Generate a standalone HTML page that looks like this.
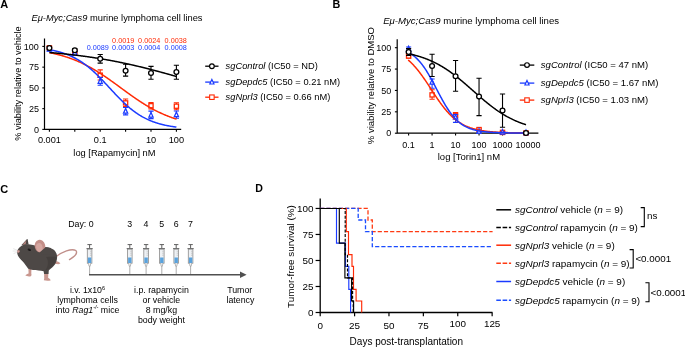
<!DOCTYPE html>
<html><head><meta charset="utf-8"><style>
html,body{margin:0;padding:0;background:#fff;}
svg{display:block;font-family:"Liberation Sans", sans-serif;will-change:transform;}
</style></head><body>
<svg width="685" height="348" viewBox="0 0 685 348">
<rect width="685" height="348" fill="#fff"/>
<text x="0.3" y="8.2" font-size="11" text-anchor="start" fill="#000" font-weight="bold" font-style="normal" >A</text>
<text x="31.5" y="21.4" font-size="9.33"><tspan font-style="italic">Eμ-Myc;Cas9</tspan> murine lymphoma cell lines</text>
<path d="M44.5,38.5 L44.5,129.4 L181.2,129.4" stroke="#000" stroke-width="1.2" fill="none"/>
<path d="M42.3,129.40 L44.5,129.40" stroke="#000" stroke-width="1.1"/>
<text x="38.9" y="132.60" font-size="9.0" text-anchor="end" fill="#000" font-weight="normal" font-style="normal" >0</text>
<path d="M42.3,108.65 L44.5,108.65" stroke="#000" stroke-width="1.1"/>
<text x="38.9" y="111.85" font-size="9.0" text-anchor="end" fill="#000" font-weight="normal" font-style="normal" >25</text>
<path d="M42.3,87.90 L44.5,87.90" stroke="#000" stroke-width="1.1"/>
<text x="38.9" y="91.10" font-size="9.0" text-anchor="end" fill="#000" font-weight="normal" font-style="normal" >50</text>
<path d="M42.3,67.15 L44.5,67.15" stroke="#000" stroke-width="1.1"/>
<text x="38.9" y="70.35" font-size="9.0" text-anchor="end" fill="#000" font-weight="normal" font-style="normal" >75</text>
<path d="M42.3,46.40 L44.5,46.40" stroke="#000" stroke-width="1.1"/>
<text x="38.9" y="49.60" font-size="9.0" text-anchor="end" fill="#000" font-weight="normal" font-style="normal" >100</text>
<path d="M49.40,129.4 L49.40,131.70000000000002" stroke="#000" stroke-width="1.1"/>
<path d="M74.80,129.4 L74.80,131.70000000000002" stroke="#000" stroke-width="1.1"/>
<path d="M100.20,129.4 L100.20,131.70000000000002" stroke="#000" stroke-width="1.1"/>
<path d="M125.60,129.4 L125.60,131.70000000000002" stroke="#000" stroke-width="1.1"/>
<path d="M151.00,129.4 L151.00,131.70000000000002" stroke="#000" stroke-width="1.1"/>
<path d="M176.40,129.4 L176.40,131.70000000000002" stroke="#000" stroke-width="1.1"/>
<text x="49.40" y="143" font-size="9.2" text-anchor="middle" fill="#000" font-weight="normal" font-style="normal" >0.001</text>
<text x="100.20" y="143" font-size="9.2" text-anchor="middle" fill="#000" font-weight="normal" font-style="normal" >0.1</text>
<text x="151.00" y="143" font-size="9.2" text-anchor="middle" fill="#000" font-weight="normal" font-style="normal" >10</text>
<text x="176.40" y="143" font-size="9.2" text-anchor="middle" fill="#000" font-weight="normal" font-style="normal" >100</text>
<text x="114.4" y="156" font-size="9.3" text-anchor="middle" fill="#000" font-weight="normal" font-style="normal" >log [Rapamycin] nM</text>
<text x="0" y="0" font-size="9.2" text-anchor="middle" fill="#000" font-weight="normal" font-style="normal" transform="translate(21.4,83.5) rotate(-90)">% viability relative to vehicle</text>
<text x="112.1" y="42.5" font-size="7.25" text-anchor="start" fill="#ff2a05" font-weight="normal" font-style="normal" >0.0019</text>
<text x="138.1" y="42.5" font-size="7.25" text-anchor="start" fill="#ff2a05" font-weight="normal" font-style="normal" >0.0024</text>
<text x="164.6" y="42.5" font-size="7.25" text-anchor="start" fill="#ff2a05" font-weight="normal" font-style="normal" >0.0038</text>
<text x="86.7" y="50.3" font-size="7.25" text-anchor="start" fill="#1a3aff" font-weight="normal" font-style="normal" >0.0089</text>
<text x="112.1" y="50.3" font-size="7.25" text-anchor="start" fill="#1a3aff" font-weight="normal" font-style="normal" >0.0003</text>
<text x="138.1" y="50.3" font-size="7.25" text-anchor="start" fill="#1a3aff" font-weight="normal" font-style="normal" >0.0004</text>
<text x="164.6" y="50.3" font-size="7.25" text-anchor="start" fill="#1a3aff" font-weight="normal" font-style="normal" >0.0008</text>
<path d="M49.4,46.5 L49.4,49 M46.8,46.5 L52.0,46.5 M46.8,49 L52.0,49" stroke="#ff2a05" stroke-width="1.1" fill="none"/>
<rect x="47.3" y="45.8" width="4.2" height="4.2" fill="#fff" stroke="#ff2a05" stroke-width="1.3"/>
<path d="M74.8,50 L74.8,53 M72.2,50 L77.39999999999999,50 M72.2,53 L77.39999999999999,53" stroke="#ff2a05" stroke-width="1.1" fill="none"/>
<rect x="72.7" y="50.5" width="4.2" height="4.2" fill="#fff" stroke="#ff2a05" stroke-width="1.3"/>
<path d="M100.2,69.9 L100.2,80 M97.60000000000001,69.9 L102.8,69.9 M97.60000000000001,80 L102.8,80" stroke="#ff2a05" stroke-width="1.1" fill="none"/>
<rect x="98.1" y="73.10000000000001" width="4.2" height="4.2" fill="#fff" stroke="#ff2a05" stroke-width="1.3"/>
<path d="M125.6,99 L125.6,106.5 M123.0,99 L128.2,99 M123.0,106.5 L128.2,106.5" stroke="#ff2a05" stroke-width="1.1" fill="none"/>
<rect x="123.5" y="100.80000000000001" width="4.2" height="4.2" fill="#fff" stroke="#ff2a05" stroke-width="1.3"/>
<path d="M151.0,102.5 L151.0,109 M148.4,102.5 L153.6,102.5 M148.4,109 L153.6,109" stroke="#ff2a05" stroke-width="1.1" fill="none"/>
<rect x="148.9" y="103.60000000000001" width="4.2" height="4.2" fill="#fff" stroke="#ff2a05" stroke-width="1.3"/>
<path d="M176.4,102.7 L176.4,109.7 M173.8,102.7 L179.0,102.7 M173.8,109.7 L179.0,109.7" stroke="#ff2a05" stroke-width="1.1" fill="none"/>
<rect x="174.3" y="104.10000000000001" width="4.2" height="4.2" fill="#fff" stroke="#ff2a05" stroke-width="1.3"/>
<path d="M49.4,48 L49.4,51 M46.8,48 L52.0,48 M46.8,51 L52.0,51" stroke="#1a3aff" stroke-width="1.1" fill="none"/>
<path d="M49.40,46.60 L51.50,51.20 L47.30,51.20 Z" fill="#fff" stroke="#1a3aff" stroke-width="1.25" stroke-linejoin="miter"/>
<path d="M74.8,51 L74.8,54 M72.2,51 L77.39999999999999,51 M72.2,54 L77.39999999999999,54" stroke="#1a3aff" stroke-width="1.1" fill="none"/>
<path d="M74.80,50.40 L76.90,55.00 L72.70,55.00 Z" fill="#fff" stroke="#1a3aff" stroke-width="1.25" stroke-linejoin="miter"/>
<path d="M100.2,77.5 L100.2,85.3 M97.60000000000001,77.5 L102.8,77.5 M97.60000000000001,85.3 L102.8,85.3" stroke="#1a3aff" stroke-width="1.1" fill="none"/>
<path d="M100.20,78.70 L102.30,83.30 L98.10,83.30 Z" fill="#fff" stroke="#1a3aff" stroke-width="1.25" stroke-linejoin="miter"/>
<path d="M125.6,107.5 L125.6,114.9 M123.0,107.5 L128.2,107.5 M123.0,114.9 L128.2,114.9" stroke="#1a3aff" stroke-width="1.1" fill="none"/>
<path d="M125.60,108.60 L127.70,113.20 L123.50,113.20 Z" fill="#fff" stroke="#1a3aff" stroke-width="1.25" stroke-linejoin="miter"/>
<path d="M151.0,111.1 L151.0,118.6 M148.4,111.1 L153.6,111.1 M148.4,118.6 L153.6,118.6" stroke="#1a3aff" stroke-width="1.1" fill="none"/>
<path d="M151.00,112.50 L153.10,117.10 L148.90,117.10 Z" fill="#fff" stroke="#1a3aff" stroke-width="1.25" stroke-linejoin="miter"/>
<path d="M176.4,111 L176.4,118.2 M173.8,111 L179.0,111 M173.8,118.2 L179.0,118.2" stroke="#1a3aff" stroke-width="1.1" fill="none"/>
<path d="M176.40,112.10 L178.50,116.70 L174.30,116.70 Z" fill="#fff" stroke="#1a3aff" stroke-width="1.25" stroke-linejoin="miter"/>
<path d="M49.40,52.64 L49.90,52.74 L50.40,52.84 L50.90,52.94 L51.40,53.05 L51.89,53.15 L52.39,53.26 L52.89,53.37 L53.39,53.48 L53.89,53.59 L54.39,53.71 L54.89,53.82 L55.39,53.94 L55.88,54.06 L56.38,54.18 L56.88,54.30 L57.38,54.43 L57.88,54.56 L58.38,54.68 L58.88,54.81 L59.38,54.95 L59.88,55.08 L60.37,55.21 L60.87,55.35 L61.37,55.49 L61.87,55.63 L62.37,55.78 L62.87,55.92 L63.37,56.07 L63.87,56.22 L64.36,56.37 L64.86,56.52 L65.36,56.68 L65.86,56.84 L66.36,57.00 L66.86,57.16 L67.36,57.32 L67.86,57.49 L68.36,57.66 L68.85,57.83 L69.35,58.00 L69.85,58.18 L70.35,58.36 L70.85,58.54 L71.35,58.72 L71.85,58.90 L72.35,59.09 L72.84,59.28 L73.34,59.47 L73.84,59.66 L74.34,59.86 L74.84,60.06 L75.34,60.26 L75.84,60.46 L76.34,60.67 L76.84,60.88 L77.33,61.09 L77.83,61.30 L78.33,61.51 L78.83,61.73 L79.33,61.95 L79.83,62.18 L80.33,62.40 L80.83,62.63 L81.32,62.86 L81.82,63.09 L82.32,63.33 L82.82,63.56 L83.32,63.80 L83.82,64.05 L84.32,64.29 L84.82,64.54 L85.32,64.79 L85.81,65.04 L86.31,65.30 L86.81,65.56 L87.31,65.82 L87.81,66.08 L88.31,66.34 L88.81,66.61 L89.31,66.88 L89.80,67.15 L90.30,67.43 L90.80,67.71 L91.30,67.99 L91.80,68.27 L92.30,68.55 L92.80,68.84 L93.30,69.13 L93.80,69.42 L94.29,69.71 L94.79,70.01 L95.29,70.31 L95.79,70.61 L96.29,70.91 L96.79,71.22 L97.29,71.53 L97.79,71.83 L98.28,72.15 L98.78,72.46 L99.28,72.78 L99.78,73.09 L100.28,73.41 L100.78,73.74 L101.28,74.06 L101.78,74.39 L102.28,74.71 L102.77,75.04 L103.27,75.38 L103.77,75.71 L104.27,76.04 L104.77,76.38 L105.27,76.72 L105.77,77.06 L106.27,77.40 L106.76,77.74 L107.26,78.09 L107.76,78.44 L108.26,78.78 L108.76,79.13 L109.26,79.48 L109.76,79.83 L110.26,80.19 L110.76,80.54 L111.25,80.90 L111.75,81.25 L112.25,81.61 L112.75,81.97 L113.25,82.33 L113.75,82.69 L114.25,83.05 L114.75,83.41 L115.24,83.77 L115.74,84.13 L116.24,84.50 L116.74,84.86 L117.24,85.22 L117.74,85.59 L118.24,85.95 L118.74,86.32 L119.24,86.68 L119.73,87.05 L120.23,87.42 L120.73,87.78 L121.23,88.15 L121.73,88.51 L122.23,88.88 L122.73,89.25 L123.23,89.61 L123.72,89.98 L124.22,90.34 L124.72,90.71 L125.22,91.07 L125.72,91.43 L126.22,91.80 L126.72,92.16 L127.22,92.52 L127.72,92.88 L128.21,93.24 L128.71,93.60 L129.21,93.96 L129.71,94.32 L130.21,94.68 L130.71,95.03 L131.21,95.39 L131.71,95.74 L132.20,96.09 L132.70,96.44 L133.20,96.79 L133.70,97.14 L134.20,97.49 L134.70,97.83 L135.20,98.18 L135.70,98.52 L136.20,98.86 L136.69,99.20 L137.19,99.54 L137.69,99.87 L138.19,100.21 L138.69,100.54 L139.19,100.87 L139.69,101.20 L140.19,101.53 L140.68,101.85 L141.18,102.18 L141.68,102.50 L142.18,102.82 L142.68,103.13 L143.18,103.45 L143.68,103.76 L144.18,104.07 L144.68,104.38 L145.17,104.69 L145.67,104.99 L146.17,105.29 L146.67,105.59 L147.17,105.89 L147.67,106.19 L148.17,106.48 L148.67,106.77 L149.16,107.06 L149.66,107.34 L150.16,107.63 L150.66,107.91 L151.16,108.19 L151.66,108.46 L152.16,108.74 L152.66,109.01 L153.16,109.28 L153.65,109.54 L154.15,109.81 L154.65,110.07 L155.15,110.33 L155.65,110.59 L156.15,110.84 L156.65,111.09 L157.15,111.34 L157.64,111.59 L158.14,111.83 L158.64,112.07 L159.14,112.31 L159.64,112.55 L160.14,112.78 L160.64,113.01 L161.14,113.24 L161.64,113.47 L162.13,113.69 L162.63,113.92 L163.13,114.14 L163.63,114.35 L164.13,114.57 L164.63,114.78 L165.13,114.99 L165.63,115.20 L166.12,115.40 L166.62,115.60 L167.12,115.80 L167.62,116.00 L168.12,116.19 L168.62,116.39 L169.12,116.58 L169.62,116.77 L170.12,116.95 L170.61,117.13 L171.11,117.32 L171.61,117.49 L172.11,117.67 L172.61,117.85 L173.11,118.02 L173.61,118.19 L174.11,118.35 L174.60,118.52 L175.10,118.68 L175.60,118.84 L176.10,119.00 L176.60,119.16" stroke="#ff2a05" stroke-width="1.5" fill="none"/>
<path d="M49.40,49.73 L49.90,49.82 L50.40,49.91 L50.89,50.00 L51.39,50.09 L51.89,50.19 L52.39,50.29 L52.89,50.39 L53.38,50.49 L53.88,50.60 L54.38,50.71 L54.88,50.82 L55.38,50.93 L55.87,51.05 L56.37,51.17 L56.87,51.29 L57.37,51.42 L57.87,51.54 L58.36,51.67 L58.86,51.81 L59.36,51.94 L59.86,52.08 L60.36,52.22 L60.85,52.37 L61.35,52.52 L61.85,52.67 L62.35,52.83 L62.85,52.99 L63.35,53.15 L63.84,53.32 L64.34,53.48 L64.84,53.66 L65.34,53.84 L65.84,54.02 L66.33,54.20 L66.83,54.39 L67.33,54.58 L67.83,54.78 L68.33,54.98 L68.82,55.18 L69.32,55.39 L69.82,55.61 L70.32,55.82 L70.82,56.05 L71.31,56.27 L71.81,56.50 L72.31,56.74 L72.81,56.98 L73.31,57.22 L73.80,57.47 L74.30,57.73 L74.80,57.99 L75.30,58.25 L75.80,58.52 L76.29,58.79 L76.79,59.07 L77.29,59.36 L77.79,59.65 L78.29,59.94 L78.78,60.24 L79.28,60.54 L79.78,60.85 L80.28,61.17 L80.78,61.49 L81.27,61.81 L81.77,62.14 L82.27,62.48 L82.77,62.82 L83.27,63.17 L83.76,63.52 L84.26,63.88 L84.76,64.24 L85.26,64.61 L85.76,64.98 L86.25,65.36 L86.75,65.74 L87.25,66.13 L87.75,66.53 L88.25,66.93 L88.75,67.33 L89.24,67.74 L89.74,68.16 L90.24,68.58 L90.74,69.01 L91.24,69.44 L91.73,69.87 L92.23,70.31 L92.73,70.76 L93.23,71.21 L93.73,71.66 L94.22,72.12 L94.72,72.59 L95.22,73.06 L95.72,73.53 L96.22,74.01 L96.71,74.49 L97.21,74.97 L97.71,75.46 L98.21,75.95 L98.71,76.45 L99.20,76.95 L99.70,77.46 L100.20,77.96 L100.70,78.47 L101.20,78.99 L101.69,79.50 L102.19,80.02 L102.69,80.54 L103.19,81.07 L103.69,81.59 L104.18,82.12 L104.68,82.65 L105.18,83.18 L105.68,83.71 L106.18,84.25 L106.67,84.78 L107.17,85.32 L107.67,85.86 L108.17,86.40 L108.67,86.93 L109.16,87.47 L109.66,88.01 L110.16,88.55 L110.66,89.09 L111.16,89.63 L111.65,90.17 L112.15,90.70 L112.65,91.24 L113.15,91.78 L113.65,92.31 L114.15,92.84 L114.64,93.37 L115.14,93.90 L115.64,94.43 L116.14,94.96 L116.64,95.48 L117.13,96.00 L117.63,96.52 L118.13,97.03 L118.63,97.54 L119.13,98.05 L119.62,98.56 L120.12,99.06 L120.62,99.56 L121.12,100.05 L121.62,100.55 L122.11,101.03 L122.61,101.52 L123.11,102.00 L123.61,102.47 L124.11,102.94 L124.60,103.41 L125.10,103.87 L125.60,104.33 L126.10,104.78 L126.60,105.23 L127.09,105.68 L127.59,106.12 L128.09,106.55 L128.59,106.98 L129.09,107.40 L129.58,107.82 L130.08,108.24 L130.58,108.64 L131.08,109.05 L131.58,109.45 L132.07,109.84 L132.57,110.23 L133.07,110.61 L133.57,110.98 L134.07,111.36 L134.56,111.72 L135.06,112.08 L135.56,112.44 L136.06,112.79 L136.56,113.13 L137.05,113.47 L137.55,113.81 L138.05,114.13 L138.55,114.46 L139.05,114.78 L139.55,115.09 L140.04,115.40 L140.54,115.70 L141.04,116.00 L141.54,116.29 L142.04,116.57 L142.53,116.86 L143.03,117.13 L143.53,117.41 L144.03,117.67 L144.53,117.93 L145.02,118.19 L145.52,118.44 L146.02,118.69 L146.52,118.94 L147.02,119.17 L147.51,119.41 L148.01,119.64 L148.51,119.86 L149.01,120.08 L149.51,120.30 L150.00,120.51 L150.50,120.72 L151.00,120.92 L151.50,121.12 L152.00,121.31 L152.49,121.51 L152.99,121.69 L153.49,121.88 L153.99,122.06 L154.49,122.23 L154.98,122.40 L155.48,122.57 L155.98,122.74 L156.48,122.90 L156.98,123.06 L157.47,123.21 L157.97,123.36 L158.47,123.51 L158.97,123.65 L159.47,123.80 L159.96,123.93 L160.46,124.07 L160.96,124.20 L161.46,124.33 L161.96,124.46 L162.45,124.58 L162.95,124.70 L163.45,124.82 L163.95,124.93 L164.45,125.05 L164.95,125.16 L165.44,125.27 L165.94,125.37 L166.44,125.47 L166.94,125.57 L167.44,125.67 L167.93,125.77 L168.43,125.86 L168.93,125.95 L169.43,126.04 L169.93,126.13 L170.42,126.21 L170.92,126.30 L171.42,126.38 L171.92,126.46 L172.42,126.54 L172.91,126.61 L173.41,126.69 L173.91,126.76 L174.41,126.83 L174.91,126.90 L175.40,126.96 L175.90,127.03 L176.40,127.09" stroke="#1a3aff" stroke-width="1.5" fill="none"/>
<path d="M49.40,52.50 L49.90,52.54 L50.40,52.58 L50.90,52.63 L51.40,52.67 L51.90,52.71 L52.40,52.75 L52.90,52.80 L53.40,52.84 L53.90,52.89 L54.40,52.93 L54.90,52.98 L55.40,53.02 L55.89,53.07 L56.39,53.11 L56.89,53.16 L57.39,53.21 L57.89,53.25 L58.39,53.30 L58.89,53.35 L59.39,53.40 L59.89,53.45 L60.39,53.50 L60.89,53.54 L61.39,53.59 L61.89,53.64 L62.39,53.69 L62.89,53.75 L63.39,53.80 L63.89,53.85 L64.39,53.90 L64.89,53.95 L65.39,54.00 L65.89,54.06 L66.39,54.11 L66.89,54.16 L67.39,54.22 L67.89,54.27 L68.39,54.33 L68.88,54.38 L69.38,54.44 L69.88,54.49 L70.38,54.55 L70.88,54.61 L71.38,54.66 L71.88,54.72 L72.38,54.78 L72.88,54.84 L73.38,54.89 L73.88,54.95 L74.38,55.01 L74.88,55.07 L75.38,55.13 L75.88,55.19 L76.38,55.25 L76.88,55.32 L77.38,55.38 L77.88,55.44 L78.38,55.50 L78.88,55.57 L79.38,55.63 L79.88,55.69 L80.38,55.76 L80.88,55.82 L81.37,55.89 L81.87,55.95 L82.37,56.02 L82.87,56.09 L83.37,56.15 L83.87,56.22 L84.37,56.29 L84.87,56.36 L85.37,56.42 L85.87,56.49 L86.37,56.56 L86.87,56.63 L87.37,56.70 L87.87,56.77 L88.37,56.85 L88.87,56.92 L89.37,56.99 L89.87,57.06 L90.37,57.14 L90.87,57.21 L91.37,57.28 L91.87,57.36 L92.37,57.43 L92.87,57.51 L93.37,57.58 L93.86,57.66 L94.36,57.74 L94.86,57.81 L95.36,57.89 L95.86,57.97 L96.36,58.05 L96.86,58.13 L97.36,58.21 L97.86,58.29 L98.36,58.37 L98.86,58.45 L99.36,58.53 L99.86,58.61 L100.36,58.70 L100.86,58.78 L101.36,58.86 L101.86,58.95 L102.36,59.03 L102.86,59.11 L103.36,59.20 L103.86,59.29 L104.36,59.37 L104.86,59.46 L105.36,59.55 L105.86,59.63 L106.36,59.72 L106.85,59.81 L107.35,59.90 L107.85,59.99 L108.35,60.08 L108.85,60.17 L109.35,60.26 L109.85,60.35 L110.35,60.44 L110.85,60.54 L111.35,60.63 L111.85,60.72 L112.35,60.82 L112.85,60.91 L113.35,61.01 L113.85,61.10 L114.35,61.20 L114.85,61.30 L115.35,61.39 L115.85,61.49 L116.35,61.59 L116.85,61.69 L117.35,61.79 L117.85,61.88 L118.35,61.98 L118.85,62.08 L119.34,62.19 L119.84,62.29 L120.34,62.39 L120.84,62.49 L121.34,62.59 L121.84,62.70 L122.34,62.80 L122.84,62.91 L123.34,63.01 L123.84,63.12 L124.34,63.22 L124.84,63.33 L125.34,63.43 L125.84,63.54 L126.34,63.65 L126.84,63.76 L127.34,63.87 L127.84,63.98 L128.34,64.08 L128.84,64.19 L129.34,64.31 L129.84,64.42 L130.34,64.53 L130.84,64.64 L131.34,64.75 L131.84,64.86 L132.33,64.98 L132.83,65.09 L133.33,65.21 L133.83,65.32 L134.33,65.44 L134.83,65.55 L135.33,65.67 L135.83,65.78 L136.33,65.90 L136.83,66.02 L137.33,66.14 L137.83,66.26 L138.33,66.37 L138.83,66.49 L139.33,66.61 L139.83,66.73 L140.33,66.85 L140.83,66.97 L141.33,67.10 L141.83,67.22 L142.33,67.34 L142.83,67.46 L143.33,67.59 L143.83,67.71 L144.33,67.83 L144.82,67.96 L145.32,68.08 L145.82,68.21 L146.32,68.33 L146.82,68.46 L147.32,68.58 L147.82,68.71 L148.32,68.84 L148.82,68.97 L149.32,69.09 L149.82,69.22 L150.32,69.35 L150.82,69.48 L151.32,69.61 L151.82,69.74 L152.32,69.87 L152.82,70.00 L153.32,70.13 L153.82,70.26 L154.32,70.39 L154.82,70.52 L155.32,70.66 L155.82,70.79 L156.32,70.92 L156.82,71.05 L157.31,71.19 L157.81,71.32 L158.31,71.46 L158.81,71.59 L159.31,71.73 L159.81,71.86 L160.31,72.00 L160.81,72.13 L161.31,72.27 L161.81,72.40 L162.31,72.54 L162.81,72.68 L163.31,72.81 L163.81,72.95 L164.31,73.09 L164.81,73.23 L165.31,73.36 L165.81,73.50 L166.31,73.64 L166.81,73.78 L167.31,73.92 L167.81,74.06 L168.31,74.20 L168.81,74.34 L169.31,74.48 L169.81,74.62 L170.30,74.76 L170.80,74.90 L171.30,75.04 L171.80,75.18 L172.30,75.32 L172.80,75.46 L173.30,75.61 L173.80,75.75 L174.30,75.89 L174.80,76.03 L175.30,76.17 L175.80,76.32 L176.30,76.46" stroke="#000" stroke-width="1.5" fill="none"/>
<path d="M49.4,46.5 L49.4,49.7 M46.8,46.5 L52.0,46.5 M46.8,49.7 L52.0,49.7" stroke="#000" stroke-width="1.1" fill="none"/>
<circle cx="49.4" cy="48.1" r="2.4" fill="#fff" stroke="#000" stroke-width="1.3"/>
<path d="M74.8,48.8 L74.8,51.8 M72.2,48.8 L77.39999999999999,48.8 M72.2,51.8 L77.39999999999999,51.8" stroke="#000" stroke-width="1.1" fill="none"/>
<circle cx="74.8" cy="50.3" r="2.4" fill="#fff" stroke="#000" stroke-width="1.3"/>
<path d="M100.2,54.5 L100.2,63.1 M97.60000000000001,54.5 L102.8,54.5 M97.60000000000001,63.1 L102.8,63.1" stroke="#000" stroke-width="1.1" fill="none"/>
<circle cx="100.19999999999999" cy="58.8" r="2.4" fill="#fff" stroke="#000" stroke-width="1.3"/>
<path d="M125.6,64.2 L125.6,76.1 M123.0,64.2 L128.2,64.2 M123.0,76.1 L128.2,76.1" stroke="#000" stroke-width="1.1" fill="none"/>
<circle cx="125.6" cy="70.7" r="2.4" fill="#fff" stroke="#000" stroke-width="1.3"/>
<path d="M151.0,66.4 L151.0,79.3 M148.4,66.4 L153.6,66.4 M148.4,79.3 L153.6,79.3" stroke="#000" stroke-width="1.1" fill="none"/>
<circle cx="151.0" cy="73.0" r="2.4" fill="#fff" stroke="#000" stroke-width="1.3"/>
<path d="M176.4,65.3 L176.4,79.3 M173.8,65.3 L179.0,65.3 M173.8,79.3 L179.0,79.3" stroke="#000" stroke-width="1.1" fill="none"/>
<circle cx="176.4" cy="72.1" r="2.4" fill="#fff" stroke="#000" stroke-width="1.3"/>
<path d="M205.2,66.2 L218.5,66.2" stroke="#000" stroke-width="1.3"/>
<circle cx="211.9" cy="66.2" r="2.35" fill="#fff" stroke="#000" stroke-width="1.2"/>
<text x="225.6" y="69.3" font-size="9.3"><tspan font-style="italic">sgControl</tspan> (IC50 = ND)</text>
<path d="M205.2,82.1 L218.5,82.1" stroke="#1a3aff" stroke-width="1.3"/>
<path d="M211.90,79.40 L214.00,84.00 L209.80,84.00 Z" fill="#fff" stroke="#1a3aff" stroke-width="1.15" stroke-linejoin="miter"/>
<text x="225.6" y="85.19999999999999" font-size="9.3"><tspan font-style="italic">sgDepdc5</tspan> (IC50 = 0.21 nM)</text>
<path d="M205.2,97.2 L218.5,97.2" stroke="#ff2a05" stroke-width="1.3"/>
<rect x="209.65" y="94.95" width="4.5" height="4.5" fill="#fff" stroke="#ff2a05" stroke-width="1.1"/>
<text x="225.6" y="100.3" font-size="9.3"><tspan font-style="italic">sgNprl3</tspan> (IC50 = 0.66 nM)</text>
<text x="332.6" y="8.0" font-size="10.8" text-anchor="start" fill="#000" font-weight="bold" font-style="normal" >B</text>
<text x="383.2" y="24.3" font-size="9.6"><tspan font-style="italic">Eμ-Myc;Cas9</tspan> murine lymphoma cell lines</text>
<path d="M397.2,39.3 L397.2,133.2 L538.4,133.2" stroke="#000" stroke-width="1.2" fill="none"/>
<path d="M394.9,133.20 L397.2,133.20" stroke="#000" stroke-width="1.1"/>
<text x="391.2" y="136.40" font-size="9.0" text-anchor="end" fill="#000" font-weight="normal" font-style="normal" >0</text>
<path d="M394.9,111.82 L397.2,111.82" stroke="#000" stroke-width="1.1"/>
<text x="391.2" y="115.02" font-size="9.0" text-anchor="end" fill="#000" font-weight="normal" font-style="normal" >25</text>
<path d="M394.9,90.45 L397.2,90.45" stroke="#000" stroke-width="1.1"/>
<text x="391.2" y="93.65" font-size="9.0" text-anchor="end" fill="#000" font-weight="normal" font-style="normal" >50</text>
<path d="M394.9,69.07 L397.2,69.07" stroke="#000" stroke-width="1.1"/>
<text x="391.2" y="72.27" font-size="9.0" text-anchor="end" fill="#000" font-weight="normal" font-style="normal" >75</text>
<path d="M394.9,47.70 L397.2,47.70" stroke="#000" stroke-width="1.1"/>
<text x="391.2" y="50.90" font-size="9.0" text-anchor="end" fill="#000" font-weight="normal" font-style="normal" >100</text>
<path d="M408.60,133.2 L408.60,135.5" stroke="#000" stroke-width="1.1"/>
<text x="408.60" y="148" font-size="9.0" text-anchor="middle" fill="#000" font-weight="normal" font-style="normal" >0.1</text>
<path d="M432.08,133.2 L432.08,135.5" stroke="#000" stroke-width="1.1"/>
<text x="432.08" y="148" font-size="9.0" text-anchor="middle" fill="#000" font-weight="normal" font-style="normal" >1</text>
<path d="M455.56,133.2 L455.56,135.5" stroke="#000" stroke-width="1.1"/>
<text x="455.56" y="148" font-size="9.0" text-anchor="middle" fill="#000" font-weight="normal" font-style="normal" >10</text>
<path d="M479.04,133.2 L479.04,135.5" stroke="#000" stroke-width="1.1"/>
<text x="479.04" y="148" font-size="9.0" text-anchor="middle" fill="#000" font-weight="normal" font-style="normal" >100</text>
<path d="M502.52,133.2 L502.52,135.5" stroke="#000" stroke-width="1.1"/>
<text x="502.52" y="148" font-size="9.0" text-anchor="middle" fill="#000" font-weight="normal" font-style="normal" >1000</text>
<path d="M526.00,133.2 L526.00,135.5" stroke="#000" stroke-width="1.1"/>
<text x="528.00" y="148" font-size="9.0" text-anchor="middle" fill="#000" font-weight="normal" font-style="normal" >10000</text>
<text x="468.9" y="160" font-size="9.5" text-anchor="middle" fill="#000" font-weight="normal" font-style="normal" >log [Torin1] nM</text>
<text x="0" y="0" font-size="9.5" text-anchor="middle" fill="#000" font-weight="normal" font-style="normal" transform="translate(374.2,85.6) rotate(-90)">% viability relative to DMSO</text>
<path d="M408.6,54 L408.6,58.2 M406.0,54 L411.20000000000005,54 M406.0,58.2 L411.20000000000005,58.2" stroke="#ff2a05" stroke-width="1.1" fill="none"/>
<rect x="406.5" y="53.9" width="4.2" height="4.2" fill="#fff" stroke="#ff2a05" stroke-width="1.3"/>
<path d="M432.08,89.7 L432.08,99.3 M429.47999999999996,89.7 L434.68,89.7 M429.47999999999996,99.3 L434.68,99.3" stroke="#ff2a05" stroke-width="1.1" fill="none"/>
<rect x="429.98" y="92.80000000000001" width="4.2" height="4.2" fill="#fff" stroke="#ff2a05" stroke-width="1.3"/>
<path d="M455.56,112.5 L455.56,118.3 M452.96,112.5 L458.16,112.5 M452.96,118.3 L458.16,118.3" stroke="#ff2a05" stroke-width="1.1" fill="none"/>
<rect x="453.46" y="113.30000000000001" width="4.2" height="4.2" fill="#fff" stroke="#ff2a05" stroke-width="1.3"/>
<path d="M479.04,128.3 L479.04,131 M476.44,128.3 L481.64000000000004,128.3 M476.44,131 L481.64000000000004,131" stroke="#ff2a05" stroke-width="1.1" fill="none"/>
<rect x="476.94" y="127.5" width="4.2" height="4.2" fill="#fff" stroke="#ff2a05" stroke-width="1.3"/>
<path d="M502.52,131.5 L502.52,133.3 M499.91999999999996,131.5 L505.12,131.5 M499.91999999999996,133.3 L505.12,133.3" stroke="#ff2a05" stroke-width="1.1" fill="none"/>
<rect x="500.42" y="130.3" width="4.2" height="4.2" fill="#fff" stroke="#ff2a05" stroke-width="1.3"/>
<path d="M526.0,132.5 L526.0,133.5 M523.4,132.5 L528.6,132.5 M523.4,133.5 L528.6,133.5" stroke="#ff2a05" stroke-width="1.1" fill="none"/>
<rect x="523.9" y="130.9" width="4.2" height="4.2" fill="#fff" stroke="#ff2a05" stroke-width="1.3"/>
<path d="M408.6,47 L408.6,51.5 M406.0,47 L411.20000000000005,47 M406.0,51.5 L411.20000000000005,51.5" stroke="#1a3aff" stroke-width="1.1" fill="none"/>
<path d="M408.60,46.20 L410.70,50.80 L406.50,50.80 Z" fill="#fff" stroke="#1a3aff" stroke-width="1.25" stroke-linejoin="miter"/>
<path d="M432.08,79 L432.08,88.3 M429.47999999999996,79 L434.68,79 M429.47999999999996,88.3 L434.68,88.3" stroke="#1a3aff" stroke-width="1.1" fill="none"/>
<path d="M432.08,79.50 L434.18,84.10 L429.98,84.10 Z" fill="#fff" stroke="#1a3aff" stroke-width="1.25" stroke-linejoin="miter"/>
<path d="M455.56,114.5 L455.56,122.4 M452.96,114.5 L458.16,114.5 M452.96,122.4 L458.16,122.4" stroke="#1a3aff" stroke-width="1.1" fill="none"/>
<path d="M455.56,114.60 L457.66,119.20 L453.46,119.20 Z" fill="#fff" stroke="#1a3aff" stroke-width="1.25" stroke-linejoin="miter"/>
<path d="M479.04,130 L479.04,133 M476.44,130 L481.64000000000004,130 M476.44,133 L481.64000000000004,133" stroke="#1a3aff" stroke-width="1.1" fill="none"/>
<path d="M479.04,128.60 L481.14,133.20 L476.94,133.20 Z" fill="#fff" stroke="#1a3aff" stroke-width="1.25" stroke-linejoin="miter"/>
<path d="M502.52,131.5 L502.52,133.3 M499.91999999999996,131.5 L505.12,131.5 M499.91999999999996,133.3 L505.12,133.3" stroke="#1a3aff" stroke-width="1.1" fill="none"/>
<path d="M502.52,129.40 L504.62,134.00 L500.42,134.00 Z" fill="#fff" stroke="#1a3aff" stroke-width="1.25" stroke-linejoin="miter"/>
<path d="M526.0,132.5 L526.0,133.5 M523.4,132.5 L528.6,132.5 M523.4,133.5 L528.6,133.5" stroke="#1a3aff" stroke-width="1.1" fill="none"/>
<path d="M526.00,130.00 L528.10,134.60 L523.90,134.60 Z" fill="#fff" stroke="#1a3aff" stroke-width="1.25" stroke-linejoin="miter"/>
<path d="M408.20,60.02 L408.70,60.46 L409.20,60.90 L409.70,61.35 L410.20,61.81 L410.70,62.28 L411.19,62.77 L411.69,63.26 L412.19,63.76 L412.69,64.28 L413.19,64.80 L413.69,65.33 L414.19,65.88 L414.69,66.43 L415.19,67.00 L415.69,67.57 L416.19,68.16 L416.69,68.75 L417.18,69.36 L417.68,69.97 L418.18,70.59 L418.68,71.23 L419.18,71.87 L419.68,72.52 L420.18,73.18 L420.68,73.85 L421.18,74.52 L421.68,75.21 L422.18,75.90 L422.68,76.60 L423.17,77.31 L423.67,78.02 L424.17,78.74 L424.67,79.47 L425.17,80.20 L425.67,80.93 L426.17,81.68 L426.67,82.42 L427.17,83.17 L427.67,83.93 L428.17,84.68 L428.67,85.44 L429.16,86.20 L429.66,86.97 L430.16,87.73 L430.66,88.50 L431.16,89.27 L431.66,90.03 L432.16,90.80 L432.66,91.56 L433.16,92.33 L433.66,93.09 L434.16,93.85 L434.66,94.60 L435.15,95.36 L435.65,96.11 L436.15,96.85 L436.65,97.59 L437.15,98.33 L437.65,99.06 L438.15,99.78 L438.65,100.50 L439.15,101.21 L439.65,101.92 L440.15,102.62 L440.64,103.31 L441.14,103.99 L441.64,104.67 L442.14,105.33 L442.64,105.99 L443.14,106.64 L443.64,107.28 L444.14,107.91 L444.64,108.54 L445.14,109.15 L445.64,109.75 L446.14,110.34 L446.63,110.93 L447.13,111.50 L447.63,112.06 L448.13,112.62 L448.63,113.16 L449.13,113.69 L449.63,114.21 L450.13,114.72 L450.63,115.23 L451.13,115.72 L451.63,116.20 L452.13,116.67 L452.62,117.13 L453.12,117.58 L453.62,118.02 L454.12,118.45 L454.62,118.87 L455.12,119.28 L455.62,119.68 L456.12,120.07 L456.62,120.45 L457.12,120.83 L457.62,121.19 L458.12,121.54 L458.61,121.89 L459.11,122.22 L459.61,122.55 L460.11,122.87 L460.61,123.18 L461.11,123.48 L461.61,123.77 L462.11,124.06 L462.61,124.34 L463.11,124.61 L463.61,124.87 L464.11,125.12 L464.60,125.37 L465.10,125.61 L465.60,125.85 L466.10,126.07 L466.60,126.30 L467.10,126.51 L467.60,126.72 L468.10,126.92 L468.60,127.12 L469.10,127.31 L469.60,127.49 L470.09,127.67 L470.59,127.84 L471.09,128.01 L471.59,128.17 L472.09,128.33 L472.59,128.48 L473.09,128.63 L473.59,128.78 L474.09,128.92 L474.59,129.05 L475.09,129.18 L475.59,129.31 L476.08,129.43 L476.58,129.55 L477.08,129.67 L477.58,129.78 L478.08,129.88 L478.58,129.99 L479.08,130.09 L479.58,130.19 L480.08,130.28 L480.58,130.37 L481.08,130.46 L481.58,130.55 L482.07,130.63 L482.57,130.71 L483.07,130.79 L483.57,130.86 L484.07,130.94 L484.57,131.01 L485.07,131.08 L485.57,131.14 L486.07,131.21 L486.57,131.27 L487.07,131.33 L487.57,131.38 L488.06,131.44 L488.56,131.49 L489.06,131.55 L489.56,131.60 L490.06,131.64 L490.56,131.69 L491.06,131.74 L491.56,131.78 L492.06,131.82 L492.56,131.86 L493.06,131.90 L493.56,131.94 L494.05,131.98 L494.55,132.01 L495.05,132.05 L495.55,132.08 L496.05,132.11 L496.55,132.15 L497.05,132.18 L497.55,132.21 L498.05,132.23 L498.55,132.26 L499.05,132.29 L499.54,132.31 L500.04,132.34 L500.54,132.36 L501.04,132.38 L501.54,132.41 L502.04,132.43 L502.54,132.45 L503.04,132.47 L503.54,132.49 L504.04,132.51 L504.54,132.52 L505.04,132.54 L505.53,132.56 L506.03,132.57 L506.53,132.59 L507.03,132.60 L507.53,132.62 L508.03,132.63 L508.53,132.65 L509.03,132.66 L509.53,132.67 L510.03,132.68 L510.53,132.70 L511.03,132.71 L511.52,132.72 L512.02,132.73 L512.52,132.74 L513.02,132.75 L513.52,132.76 L514.02,132.77 L514.52,132.78 L515.02,132.79 L515.52,132.80 L516.02,132.80 L516.52,132.81 L517.02,132.82 L517.51,132.83 L518.01,132.83 L518.51,132.84 L519.01,132.85 L519.51,132.85 L520.01,132.86 L520.51,132.86 L521.01,132.87 L521.51,132.88 L522.01,132.88 L522.51,132.89 L523.01,132.89 L523.50,132.90 L524.00,132.90 L524.50,132.91 L525.00,132.91 L525.50,132.91 L526.00,132.92" stroke="#ff2a05" stroke-width="1.5" fill="none"/>
<path d="M408.40,52.28 L408.90,52.56 L409.40,52.85 L409.89,53.15 L410.39,53.46 L410.89,53.78 L411.39,54.11 L411.89,54.45 L412.39,54.81 L412.88,55.18 L413.38,55.56 L413.88,55.96 L414.38,56.37 L414.88,56.79 L415.38,57.23 L415.87,57.68 L416.37,58.14 L416.87,58.62 L417.37,59.12 L417.87,59.63 L418.37,60.15 L418.86,60.69 L419.36,61.25 L419.86,61.82 L420.36,62.41 L420.86,63.01 L421.36,63.63 L421.85,64.26 L422.35,64.92 L422.85,65.58 L423.35,66.27 L423.85,66.97 L424.35,67.68 L424.84,68.41 L425.34,69.16 L425.84,69.92 L426.34,70.70 L426.84,71.49 L427.34,72.29 L427.83,73.11 L428.33,73.94 L428.83,74.79 L429.33,75.64 L429.83,76.51 L430.33,77.39 L430.82,78.28 L431.32,79.18 L431.82,80.09 L432.32,81.01 L432.82,81.93 L433.32,82.86 L433.81,83.80 L434.31,84.74 L434.81,85.69 L435.31,86.64 L435.81,87.59 L436.31,88.55 L436.80,89.50 L437.30,90.46 L437.80,91.41 L438.30,92.37 L438.80,93.31 L439.29,94.26 L439.79,95.20 L440.29,96.13 L440.79,97.06 L441.29,97.98 L441.79,98.90 L442.28,99.80 L442.78,100.70 L443.28,101.58 L443.78,102.46 L444.28,103.32 L444.78,104.17 L445.27,105.01 L445.77,105.83 L446.27,106.65 L446.77,107.44 L447.27,108.23 L447.77,109.00 L448.26,109.75 L448.76,110.49 L449.26,111.21 L449.76,111.92 L450.26,112.61 L450.76,113.29 L451.25,113.95 L451.75,114.59 L452.25,115.22 L452.75,115.83 L453.25,116.42 L453.75,117.00 L454.24,117.57 L454.74,118.12 L455.24,118.65 L455.74,119.17 L456.24,119.67 L456.74,120.15 L457.23,120.63 L457.73,121.09 L458.23,121.53 L458.73,121.96 L459.23,122.37 L459.73,122.78 L460.22,123.17 L460.72,123.54 L461.22,123.90 L461.72,124.26 L462.22,124.59 L462.72,124.92 L463.21,125.24 L463.71,125.54 L464.21,125.84 L464.71,126.12 L465.21,126.39 L465.71,126.66 L466.20,126.91 L466.70,127.15 L467.20,127.39 L467.70,127.62 L468.20,127.83 L468.69,128.04 L469.19,128.25 L469.69,128.44 L470.19,128.63 L470.69,128.81 L471.19,128.98 L471.68,129.14 L472.18,129.30 L472.68,129.46 L473.18,129.60 L473.68,129.75 L474.18,129.88 L474.67,130.01 L475.17,130.14 L475.67,130.26 L476.17,130.37 L476.67,130.48 L477.17,130.59 L477.66,130.69 L478.16,130.79 L478.66,130.88 L479.16,130.97 L479.66,131.06 L480.16,131.14 L480.65,131.22 L481.15,131.30 L481.65,131.37 L482.15,131.44 L482.65,131.51 L483.15,131.57 L483.64,131.63 L484.14,131.69 L484.64,131.75 L485.14,131.80 L485.64,131.86 L486.14,131.91 L486.63,131.95 L487.13,132.00 L487.63,132.04 L488.13,132.09 L488.63,132.13 L489.13,132.17 L489.62,132.20 L490.12,132.24 L490.62,132.27 L491.12,132.30 L491.62,132.34 L492.12,132.37 L492.61,132.39 L493.11,132.42 L493.61,132.45 L494.11,132.47 L494.61,132.50 L495.11,132.52 L495.60,132.54 L496.10,132.56 L496.60,132.58 L497.10,132.60 L497.60,132.62 L498.09,132.64 L498.59,132.66 L499.09,132.67 L499.59,132.69 L500.09,132.70 L500.59,132.72 L501.08,132.73 L501.58,132.75 L502.08,132.76 L502.58,132.77 L503.08,132.78 L503.58,132.79 L504.07,132.80 L504.57,132.81 L505.07,132.82 L505.57,132.83 L506.07,132.84 L506.57,132.85 L507.06,132.86 L507.56,132.87 L508.06,132.87 L508.56,132.88 L509.06,132.89 L509.56,132.89 L510.05,132.90 L510.55,132.91 L511.05,132.91 L511.55,132.92 L512.05,132.92 L512.55,132.93 L513.04,132.93 L513.54,132.94 L514.04,132.94 L514.54,132.95 L515.04,132.95 L515.54,132.95 L516.03,132.96 L516.53,132.96 L517.03,132.97 L517.53,132.97 L518.03,132.97 L518.53,132.97 L519.02,132.98 L519.52,132.98 L520.02,132.98 L520.52,132.99 L521.02,132.99 L521.52,132.99 L522.01,132.99 L522.51,132.99 L523.01,133.00 L523.51,133.00 L524.01,133.00 L524.51,133.00 L525.00,133.00 L525.50,133.01 L526.00,133.01" stroke="#1a3aff" stroke-width="1.5" fill="none"/>
<path d="M408.40,53.71 L408.90,53.82 L409.40,53.92 L409.89,54.03 L410.39,54.14 L410.89,54.26 L411.39,54.37 L411.89,54.49 L412.39,54.60 L412.88,54.72 L413.38,54.85 L413.88,54.97 L414.38,55.10 L414.88,55.23 L415.38,55.36 L415.87,55.49 L416.37,55.63 L416.87,55.77 L417.37,55.91 L417.87,56.05 L418.37,56.20 L418.86,56.35 L419.36,56.50 L419.86,56.65 L420.36,56.81 L420.86,56.97 L421.36,57.13 L421.85,57.30 L422.35,57.46 L422.85,57.63 L423.35,57.81 L423.85,57.98 L424.35,58.16 L424.84,58.34 L425.34,58.52 L425.84,58.71 L426.34,58.90 L426.84,59.10 L427.34,59.29 L427.83,59.49 L428.33,59.69 L428.83,59.90 L429.33,60.11 L429.83,60.32 L430.33,60.53 L430.82,60.75 L431.32,60.97 L431.82,61.20 L432.32,61.43 L432.82,61.66 L433.32,61.89 L433.81,62.13 L434.31,62.37 L434.81,62.62 L435.31,62.87 L435.81,63.12 L436.31,63.37 L436.80,63.63 L437.30,63.89 L437.80,64.16 L438.30,64.43 L438.80,64.70 L439.29,64.98 L439.79,65.26 L440.29,65.54 L440.79,65.83 L441.29,66.12 L441.79,66.41 L442.28,66.71 L442.78,67.01 L443.28,67.31 L443.78,67.62 L444.28,67.93 L444.78,68.25 L445.27,68.57 L445.77,68.89 L446.27,69.22 L446.77,69.54 L447.27,69.88 L447.77,70.21 L448.26,70.55 L448.76,70.90 L449.26,71.24 L449.76,71.59 L450.26,71.94 L450.76,72.30 L451.25,72.66 L451.75,73.02 L452.25,73.39 L452.75,73.76 L453.25,74.13 L453.75,74.50 L454.24,74.88 L454.74,75.26 L455.24,75.65 L455.74,76.03 L456.24,76.42 L456.74,76.82 L457.23,77.21 L457.73,77.61 L458.23,78.01 L458.73,78.41 L459.23,78.82 L459.73,79.23 L460.22,79.64 L460.72,80.05 L461.22,80.46 L461.72,80.88 L462.22,81.30 L462.72,81.72 L463.21,82.14 L463.71,82.57 L464.21,82.99 L464.71,83.42 L465.21,83.85 L465.71,84.28 L466.20,84.71 L466.70,85.14 L467.20,85.58 L467.70,86.01 L468.20,86.45 L468.69,86.89 L469.19,87.33 L469.69,87.77 L470.19,88.21 L470.69,88.65 L471.19,89.09 L471.68,89.53 L472.18,89.97 L472.68,90.41 L473.18,90.85 L473.68,91.29 L474.18,91.73 L474.67,92.17 L475.17,92.62 L475.67,93.06 L476.17,93.50 L476.67,93.93 L477.17,94.37 L477.66,94.81 L478.16,95.25 L478.66,95.68 L479.16,96.12 L479.66,96.55 L480.16,96.98 L480.65,97.42 L481.15,97.84 L481.65,98.27 L482.15,98.70 L482.65,99.12 L483.15,99.55 L483.64,99.97 L484.14,100.39 L484.64,100.80 L485.14,101.22 L485.64,101.63 L486.14,102.04 L486.63,102.45 L487.13,102.86 L487.63,103.26 L488.13,103.66 L488.63,104.06 L489.13,104.46 L489.62,104.85 L490.12,105.24 L490.62,105.63 L491.12,106.01 L491.62,106.40 L492.12,106.77 L492.61,107.15 L493.11,107.52 L493.61,107.89 L494.11,108.26 L494.61,108.62 L495.11,108.98 L495.60,109.34 L496.10,109.69 L496.60,110.05 L497.10,110.39 L497.60,110.74 L498.09,111.08 L498.59,111.41 L499.09,111.75 L499.59,112.08 L500.09,112.40 L500.59,112.73 L501.08,113.05 L501.58,113.36 L502.08,113.68 L502.58,113.99 L503.08,114.29 L503.58,114.59 L504.07,114.89 L504.57,115.19 L505.07,115.48 L505.57,115.77 L506.07,116.05 L506.57,116.33 L507.06,116.61 L507.56,116.88 L508.06,117.15 L508.56,117.42 L509.06,117.68 L509.56,117.94 L510.05,118.20 L510.55,118.45 L511.05,118.70 L511.55,118.94 L512.05,119.19 L512.55,119.43 L513.04,119.66 L513.54,119.89 L514.04,120.12 L514.54,120.35 L515.04,120.57 L515.54,120.79 L516.03,121.01 L516.53,121.22 L517.03,121.43 L517.53,121.64 L518.03,121.84 L518.53,122.04 L519.02,122.24 L519.52,122.43 L520.02,122.62 L520.52,122.81 L521.02,122.99 L521.52,123.18 L522.01,123.35 L522.51,123.53 L523.01,123.70 L523.51,123.88 L524.01,124.04 L524.51,124.21 L525.00,124.37 L525.50,124.53 L526.00,124.69" stroke="#000" stroke-width="1.5" fill="none"/>
<path d="M408.6,48.6 L408.6,55.5 M406.0,48.6 L411.20000000000005,48.6 M406.0,55.5 L411.20000000000005,55.5" stroke="#000" stroke-width="1.1" fill="none"/>
<circle cx="408.6" cy="52.1" r="2.4" fill="#fff" stroke="#000" stroke-width="1.3"/>
<path d="M432.08,54.2 L432.08,76.5 M429.47999999999996,54.2 L434.68,54.2 M429.47999999999996,76.5 L434.68,76.5" stroke="#000" stroke-width="1.1" fill="none"/>
<circle cx="432.08000000000004" cy="66.0" r="2.4" fill="#fff" stroke="#000" stroke-width="1.3"/>
<path d="M455.56,60.5 L455.56,91.2 M452.96,60.5 L458.16,60.5 M452.96,91.2 L458.16,91.2" stroke="#000" stroke-width="1.1" fill="none"/>
<circle cx="455.56" cy="76.2" r="2.4" fill="#fff" stroke="#000" stroke-width="1.3"/>
<path d="M479.04,78.3 L479.04,115.6 M476.44,78.3 L481.64000000000004,78.3 M476.44,115.6 L481.64000000000004,115.6" stroke="#000" stroke-width="1.1" fill="none"/>
<circle cx="479.04" cy="96.6" r="2.4" fill="#fff" stroke="#000" stroke-width="1.3"/>
<path d="M502.52,94 L502.52,127.2 M499.91999999999996,94 L505.12,94 M499.91999999999996,127.2 L505.12,127.2" stroke="#000" stroke-width="1.1" fill="none"/>
<circle cx="502.52000000000004" cy="110.6" r="2.4" fill="#fff" stroke="#000" stroke-width="1.3"/>
<path d="M526.0,132 L526.0,134 M523.4,132 L528.6,132 M523.4,134 L528.6,134" stroke="#000" stroke-width="1.1" fill="none"/>
<circle cx="526.0" cy="133" r="2.4" fill="#fff" stroke="#000" stroke-width="1.3"/>
<path d="M519.8,65.1 L534.3,65.1" stroke="#000" stroke-width="1.3"/>
<circle cx="527" cy="65.1" r="2.35" fill="#fff" stroke="#000" stroke-width="1.2"/>
<text x="540.8" y="68.3" font-size="9.55"><tspan font-style="italic">sgControl</tspan> (IC50 = 47 nM)</text>
<path d="M519.8,83.1 L534.3,83.1" stroke="#1a3aff" stroke-width="1.3"/>
<path d="M527.00,80.40 L529.10,85.00 L524.90,85.00 Z" fill="#fff" stroke="#1a3aff" stroke-width="1.15" stroke-linejoin="miter"/>
<text x="540.8" y="86.3" font-size="9.55"><tspan font-style="italic">sgDepdc5</tspan> (IC50 = 1.67 nM)</text>
<path d="M519.8,100.1 L534.3,100.1" stroke="#ff2a05" stroke-width="1.3"/>
<rect x="524.75" y="97.85" width="4.5" height="4.5" fill="#fff" stroke="#ff2a05" stroke-width="1.1"/>
<text x="540.8" y="103.3" font-size="9.55"><tspan font-style="italic">sgNprl3</tspan> (IC50 = 1.03 nM)</text>
<text x="0.3" y="192.5" font-size="11" text-anchor="start" fill="#000" font-weight="bold" font-style="normal" >C</text>
<g>
<path d="M56.6,256.2 C59.5,254 62.5,252.4 66.5,250.9 C70.5,249.5 74,249.4 75.8,250.5 C77.2,251.6 76.5,254.3 74.5,256.1 C72.8,257.6 70.9,258.7 69.5,259.6" stroke="#c08f8a" stroke-width="1.4" fill="none" stroke-linecap="round"/>
<path d="M55,261 C57.5,261.2 59.5,262 60.4,263.4 L58.4,264.2 L55,263.8 Z" fill="#c9978f"/>
<path d="M28.4,268.6 L31.4,268.9 L31.3,273.4 C31.6,274.4 31.6,275.6 30.8,276.2 C29,276.6 26.6,276.4 25.3,275.3 C26.2,274.3 27.6,273.8 28.6,273.4 Z" fill="#c9978f"/>
<path d="M44.1,273 L48.3,273 L48.2,278 C49.4,278.4 50.4,279.2 50.6,280.4 C48.4,281 45.8,280.9 43.8,280.3 C44.2,279.2 44.3,278.3 44.2,277.4 Z" fill="#c9978f"/>
<path d="M21.3,245.2 L26.8,239.2 C27.4,238.8 27.7,239.2 27.8,240 L28.6,244.6 Z" fill="#4c4745"/>
<path d="M22.4,244.8 L26.4,240.2 L25.6,244.4 Z" fill="#b5837d"/>
<path d="M17.1,251.4 C17.6,249.4 19.2,247.6 21,246.3 C23.5,244.6 27,244 30,244.6 C34,245.4 38,246.4 42,246.7 C46,247 50.5,247.4 53.4,249.6 C56,251.6 57.2,254.4 57.1,257.4 C57,260.8 55.8,263.8 53.4,266.2 C51.8,267.8 50,269.2 48.8,270.6 L48.5,274 L44.1,274 L43.6,271.2 C40.5,270.6 36.5,269.9 33,269.9 C31.5,269.9 29.8,269.4 28.2,268.8 C26.3,266 24.6,263.6 23,261.8 C21.4,260.2 19.6,258.6 18.6,256.8 C17.6,255.2 17.1,253.4 17.1,251.4 Z" fill="#4d4846"/>
<path d="M46,257 C49,261 48.6,266 45.2,270.4 C47.6,270 49.6,268.6 51.6,267 C54.6,264.4 56.2,261 56.4,257.2 C53.6,256.6 50,257 46,257 Z" fill="#3e3937" opacity="0.55"/>
<ellipse cx="40" cy="246.2" rx="5.3" ry="6.5" transform="rotate(-14 40 246.2)" fill="#c48f89"/>
<ellipse cx="39.4" cy="247.4" rx="3.2" ry="4.3" transform="rotate(-14 39.4 247.4)" fill="#d6a7a1"/>
<path d="M38.2,253.8 C40.6,251.6 43,249.2 45.6,247.2 C47.5,247.2 49.5,247.5 51,248 L51,255 Z" fill="#4d4846"/>
<ellipse cx="29.3" cy="249.8" rx="1.75" ry="1.05" transform="rotate(25 29.3 249.8)" fill="#1c1919"/>
<path d="M17,251.2 C17.4,250.2 18.6,250 19.6,250.6 C20,251.6 19.4,252.6 18.2,252.8 C17.6,252.6 17.1,252 17,251.2 Z" fill="#d39b95"/>
<path d="M17.4,250.3 L13.2,248.6 M17.4,251.1 L12.6,251 M17.6,251.9 L13.6,253.6" stroke="#c8c8c8" stroke-width="0.4"/>
</g>

<path d="M87.39999999999999,244.6 L91.8,244.6 M89.6,244.6 L89.6,248.4 M86.5,248.6 L92.69999999999999,248.6" stroke="#5e5e5e" stroke-width="1" fill="none"/><rect x="87.3" y="249.2" width="4.6" height="14" fill="#eef1f4" stroke="#8c8c8c" stroke-width="0.8"/><rect x="87.89999999999999" y="257.5" width="3.4" height="5.5" fill="#5aa2dc"/><path d="M90.1,251.2 L91.3,251.2 M90.1,253.2 L91.3,253.2 M90.1,255.2 L91.3,255.2" stroke="#999" stroke-width="0.5"/><path d="M88.5,263.2 L89.0,266.2 L90.19999999999999,266.2 L90.69999999999999,263.2" fill="#fff" stroke="#9a9a9a" stroke-width="0.7"/><path d="M89.6,266.2 L89.6,274.8" stroke="#8a8a8a" stroke-width="0.7"/>
<path d="M127.60000000000001,244.6 L132.0,244.6 M129.8,244.6 L129.8,248.4 M126.70000000000002,248.6 L132.9,248.6" stroke="#5e5e5e" stroke-width="1" fill="none"/><rect x="127.50000000000001" y="249.2" width="4.6" height="14" fill="#eef1f4" stroke="#8c8c8c" stroke-width="0.8"/><rect x="128.10000000000002" y="257.5" width="3.4" height="5.5" fill="#5aa2dc"/><path d="M130.3,251.2 L131.5,251.2 M130.3,253.2 L131.5,253.2 M130.3,255.2 L131.5,255.2" stroke="#999" stroke-width="0.5"/><path d="M128.70000000000002,263.2 L129.20000000000002,266.2 L130.4,266.2 L130.9,263.2" fill="#fff" stroke="#9a9a9a" stroke-width="0.7"/><path d="M129.8,266.2 L129.8,274.8" stroke="#8a8a8a" stroke-width="0.7"/>
<path d="M143.9,244.6 L148.29999999999998,244.6 M146.1,244.6 L146.1,248.4 M143.0,248.6 L149.2,248.6" stroke="#5e5e5e" stroke-width="1" fill="none"/><rect x="143.79999999999998" y="249.2" width="4.6" height="14" fill="#eef1f4" stroke="#8c8c8c" stroke-width="0.8"/><rect x="144.4" y="257.5" width="3.4" height="5.5" fill="#5aa2dc"/><path d="M146.6,251.2 L147.79999999999998,251.2 M146.6,253.2 L147.79999999999998,253.2 M146.6,255.2 L147.79999999999998,255.2" stroke="#999" stroke-width="0.5"/><path d="M145.0,263.2 L145.5,266.2 L146.7,266.2 L147.2,263.2" fill="#fff" stroke="#9a9a9a" stroke-width="0.7"/><path d="M146.1,266.2 L146.1,274.8" stroke="#8a8a8a" stroke-width="0.7"/>
<path d="M159.60000000000002,244.6 L164.0,244.6 M161.8,244.6 L161.8,248.4 M158.70000000000002,248.6 L164.9,248.6" stroke="#5e5e5e" stroke-width="1" fill="none"/><rect x="159.5" y="249.2" width="4.6" height="14" fill="#eef1f4" stroke="#8c8c8c" stroke-width="0.8"/><rect x="160.10000000000002" y="257.5" width="3.4" height="5.5" fill="#5aa2dc"/><path d="M162.3,251.2 L163.5,251.2 M162.3,253.2 L163.5,253.2 M162.3,255.2 L163.5,255.2" stroke="#999" stroke-width="0.5"/><path d="M160.70000000000002,263.2 L161.20000000000002,266.2 L162.4,266.2 L162.9,263.2" fill="#fff" stroke="#9a9a9a" stroke-width="0.7"/><path d="M161.8,266.2 L161.8,274.8" stroke="#8a8a8a" stroke-width="0.7"/>
<path d="M174.0,244.6 L178.39999999999998,244.6 M176.2,244.6 L176.2,248.4 M173.1,248.6 L179.29999999999998,248.6" stroke="#5e5e5e" stroke-width="1" fill="none"/><rect x="173.89999999999998" y="249.2" width="4.6" height="14" fill="#eef1f4" stroke="#8c8c8c" stroke-width="0.8"/><rect x="174.5" y="257.5" width="3.4" height="5.5" fill="#5aa2dc"/><path d="M176.7,251.2 L177.89999999999998,251.2 M176.7,253.2 L177.89999999999998,253.2 M176.7,255.2 L177.89999999999998,255.2" stroke="#999" stroke-width="0.5"/><path d="M175.1,263.2 L175.6,266.2 L176.79999999999998,266.2 L177.29999999999998,263.2" fill="#fff" stroke="#9a9a9a" stroke-width="0.7"/><path d="M176.2,266.2 L176.2,274.8" stroke="#8a8a8a" stroke-width="0.7"/>
<path d="M188.4,244.6 L192.79999999999998,244.6 M190.6,244.6 L190.6,248.4 M187.5,248.6 L193.7,248.6" stroke="#5e5e5e" stroke-width="1" fill="none"/><rect x="188.29999999999998" y="249.2" width="4.6" height="14" fill="#eef1f4" stroke="#8c8c8c" stroke-width="0.8"/><rect x="188.9" y="257.5" width="3.4" height="5.5" fill="#5aa2dc"/><path d="M191.1,251.2 L192.29999999999998,251.2 M191.1,253.2 L192.29999999999998,253.2 M191.1,255.2 L192.29999999999998,255.2" stroke="#999" stroke-width="0.5"/><path d="M189.5,263.2 L190.0,266.2 L191.2,266.2 L191.7,263.2" fill="#fff" stroke="#9a9a9a" stroke-width="0.7"/><path d="M190.6,266.2 L190.6,274.8" stroke="#8a8a8a" stroke-width="0.7"/>
<path d="M89,274.8 L241,274.8" stroke="#505050" stroke-width="1.6"/>
<path d="M240,271.6 L246.6,274.8 L240,278 Z" fill="#505050"/>
<text x="68.2" y="227.4" font-size="8.8" text-anchor="start" fill="#000" font-weight="normal" font-style="normal" >Day: 0</text>
<text x="129.6" y="227.4" font-size="8.8" text-anchor="middle" fill="#000" font-weight="normal" font-style="normal" >3</text>
<text x="145.9" y="227.4" font-size="8.8" text-anchor="middle" fill="#000" font-weight="normal" font-style="normal" >4</text>
<text x="161.7" y="227.4" font-size="8.8" text-anchor="middle" fill="#000" font-weight="normal" font-style="normal" >5</text>
<text x="176.1" y="227.4" font-size="8.8" text-anchor="middle" fill="#000" font-weight="normal" font-style="normal" >6</text>
<text x="190.4" y="227.4" font-size="8.8" text-anchor="middle" fill="#000" font-weight="normal" font-style="normal" >7</text>
<text x="87.5" y="292.7" font-size="8.8" text-anchor="middle">i.v. 1x10<tspan font-size="5.5" dy="-3.2">6</tspan></text>
<text x="87.5" y="302.6" font-size="8.8" text-anchor="middle" fill="#000" font-weight="normal" font-style="normal" >lymphoma cells</text>
<text x="87.5" y="312.6" font-size="8.8" text-anchor="middle">into <tspan font-style="italic">Rag1</tspan><tspan font-size="5.5" dy="-3.2" font-style="italic">-/-</tspan><tspan dy="3.2"> mice</tspan></text>
<text x="161.4" y="292.7" font-size="8.8" text-anchor="middle" fill="#000" font-weight="normal" font-style="normal" >i.p. rapamycin</text>
<text x="161.4" y="302.65" font-size="8.8" text-anchor="middle" fill="#000" font-weight="normal" font-style="normal" >or vehicle</text>
<text x="161.4" y="312.59999999999997" font-size="8.8" text-anchor="middle" fill="#000" font-weight="normal" font-style="normal" >8 mg/kg</text>
<text x="161.4" y="322.55" font-size="8.8" text-anchor="middle" fill="#000" font-weight="normal" font-style="normal" >body weight</text>
<text x="239.7" y="292.7" font-size="8.8" text-anchor="middle" fill="#000" font-weight="normal" font-style="normal" >Tumor</text>
<text x="240.4" y="302.6" font-size="8.8" text-anchor="middle" fill="#000" font-weight="normal" font-style="normal" >latency</text>
<text x="255.3" y="192.2" font-size="10.6" text-anchor="start" fill="#000" font-weight="bold" font-style="normal" >D</text>
<path d="M320.2,198.4 L320.2,312.5 L492.5,312.5" stroke="#000" stroke-width="1.3" fill="none"/>
<path d="M315.6,312.50 L320.2,312.50" stroke="#000" stroke-width="1.2"/>
<text x="313.4" y="316.00" font-size="9.9" text-anchor="end" fill="#000" font-weight="normal" font-style="normal" >0</text>
<path d="M315.6,286.49 L320.2,286.49" stroke="#000" stroke-width="1.2"/>
<text x="313.4" y="289.99" font-size="9.9" text-anchor="end" fill="#000" font-weight="normal" font-style="normal" >25</text>
<path d="M315.6,260.48 L320.2,260.48" stroke="#000" stroke-width="1.2"/>
<text x="313.4" y="263.98" font-size="9.9" text-anchor="end" fill="#000" font-weight="normal" font-style="normal" >50</text>
<path d="M315.6,234.46 L320.2,234.46" stroke="#000" stroke-width="1.2"/>
<text x="313.4" y="237.96" font-size="9.9" text-anchor="end" fill="#000" font-weight="normal" font-style="normal" >75</text>
<path d="M315.6,208.45 L320.2,208.45" stroke="#000" stroke-width="1.2"/>
<text x="313.4" y="211.95" font-size="9.9" text-anchor="end" fill="#000" font-weight="normal" font-style="normal" >100</text>
<path d="M320.20,312.5 L320.20,316.3" stroke="#000" stroke-width="1.2"/>
<text x="320.20" y="328.6" font-size="9.9" text-anchor="middle" fill="#000" font-weight="normal" font-style="normal" >0</text>
<path d="M354.59,312.5 L354.59,316.3" stroke="#000" stroke-width="1.2"/>
<text x="354.59" y="328.6" font-size="9.9" text-anchor="middle" fill="#000" font-weight="normal" font-style="normal" >25</text>
<path d="M388.97,312.5 L388.97,316.3" stroke="#000" stroke-width="1.2"/>
<text x="388.97" y="328.6" font-size="9.9" text-anchor="middle" fill="#000" font-weight="normal" font-style="normal" >50</text>
<path d="M423.36,312.5 L423.36,316.3" stroke="#000" stroke-width="1.2"/>
<text x="423.36" y="328.6" font-size="9.9" text-anchor="middle" fill="#000" font-weight="normal" font-style="normal" >75</text>
<path d="M457.75,312.5 L457.75,316.3" stroke="#000" stroke-width="1.2"/>
<text x="457.75" y="326.6" font-size="9.9" text-anchor="middle" fill="#000" font-weight="normal" font-style="normal" >100</text>
<path d="M492.14,312.5 L492.14,316.3" stroke="#000" stroke-width="1.2"/>
<text x="492.14" y="326.6" font-size="9.9" text-anchor="middle" fill="#000" font-weight="normal" font-style="normal" >125</text>
<text x="406.3" y="344.6" font-size="10.0" text-anchor="middle" fill="#000" font-weight="normal" font-style="normal" >Days post-transplantation</text>
<text x="0" y="0" font-size="9.9" text-anchor="middle" fill="#000" font-weight="normal" font-style="normal" transform="translate(294.1,256.5) rotate(-90)">Tumor-free survival (%)</text>
<path d="M320.2,208.45 H368.00 V220.00 H372.30 V231.55 H492.60" stroke="#ff3a12" stroke-width="1.3" fill="none" stroke-dasharray="4.2,2"/>
<path d="M320.2,208.45 H358.20 V220.00 H365.50 V231.55 H372.30 V246.53 H492.60" stroke="#1a4cff" stroke-width="1.3" fill="none" stroke-dasharray="4.2,2"/>
<path d="M320.2,208.45 H346.30 V231.55 H348.50 V254.65 H352.00 V266.30 H353.50 V289.40 H356.10 V300.95 H361.70 V312.50" stroke="#ff2a05" stroke-width="1.15" fill="none"/>
<path d="M320.2,208.45 H336.50 V243.10 H345.50 V266.30 H348.80 V289.40 H350.60 V312.50" stroke="#1a3aff" stroke-width="1.15" fill="none"/>
<path d="M320.2,208.45 H345.20 V254.65 H347.50 V277.85 H352.60 V300.95 H353.20 V312.50" stroke="#000" stroke-width="1.15" fill="none" stroke-dasharray="3,1.6"/>
<path d="M320.2,208.45 H339.30 V243.10 H344.90 V277.85 H351.60 V300.95 H353.60 V312.50" stroke="#000" stroke-width="1.15" fill="none"/>
<path d="M496.3,209.8 L511.1,209.8" stroke="#000" stroke-width="1.5"/>
<text x="515" y="213.3" font-size="9.95"><tspan font-style="italic">sgControl</tspan> vehicle (<tspan font-style="italic">n</tspan> = 9)</text>
<path d="M496.3,227.6 L511.1,227.6" stroke="#000" stroke-width="1.5" stroke-dasharray="4.6,1.7"/>
<text x="515" y="231.1" font-size="9.95"><tspan font-style="italic">sgControl</tspan> rapamycin (<tspan font-style="italic">n</tspan> = 9)</text>
<path d="M496.3,245.2 L511.1,245.2" stroke="#ff2a05" stroke-width="1.5"/>
<text x="515" y="248.7" font-size="9.95"><tspan font-style="italic">sgNprl3</tspan> vehicle (<tspan font-style="italic">n</tspan> = 9)</text>
<path d="M496.3,263.2 L511.1,263.2" stroke="#ff3a12" stroke-width="1.5" stroke-dasharray="4.6,1.7"/>
<text x="515" y="266.7" font-size="9.95"><tspan font-style="italic">sgNprl3</tspan> rapamycin (<tspan font-style="italic">n</tspan> = 9)</text>
<path d="M496.3,281.5 L511.1,281.5" stroke="#1a3aff" stroke-width="1.5"/>
<text x="515" y="285.0" font-size="9.95"><tspan font-style="italic">sgDepdc5</tspan> vehicle (<tspan font-style="italic">n</tspan> = 9)</text>
<path d="M496.3,300.3 L511.1,300.3" stroke="#1a4cff" stroke-width="1.5" stroke-dasharray="4.6,1.7"/>
<text x="515" y="303.8" font-size="9.95"><tspan font-style="italic">sgDepdc5</tspan> rapamycin (<tspan font-style="italic">n</tspan> = 9)</text>
<path d="M640.6999999999999,207.6 H644.3 V226.6 H640.6999999999999" stroke="#000" stroke-width="1.1" fill="none"/>
<text x="647" y="218.6" font-size="9.8" text-anchor="start" fill="#000" font-weight="normal" font-style="normal" >ns</text>
<path d="M629.6,249.6 H633.2 V268 H629.6" stroke="#000" stroke-width="1.1" fill="none"/>
<text x="635.4" y="262.4" font-size="9.8" text-anchor="start" fill="#000" font-weight="normal" font-style="normal" >&lt;0.0001</text>
<path d="M645.4,282.8 H649.0 V301.7 H645.4" stroke="#000" stroke-width="1.1" fill="none"/>
<text x="650.5" y="295.6" font-size="9.8" text-anchor="start" fill="#000" font-weight="normal" font-style="normal" >&lt;0.0001</text>
</svg>
</body></html>
